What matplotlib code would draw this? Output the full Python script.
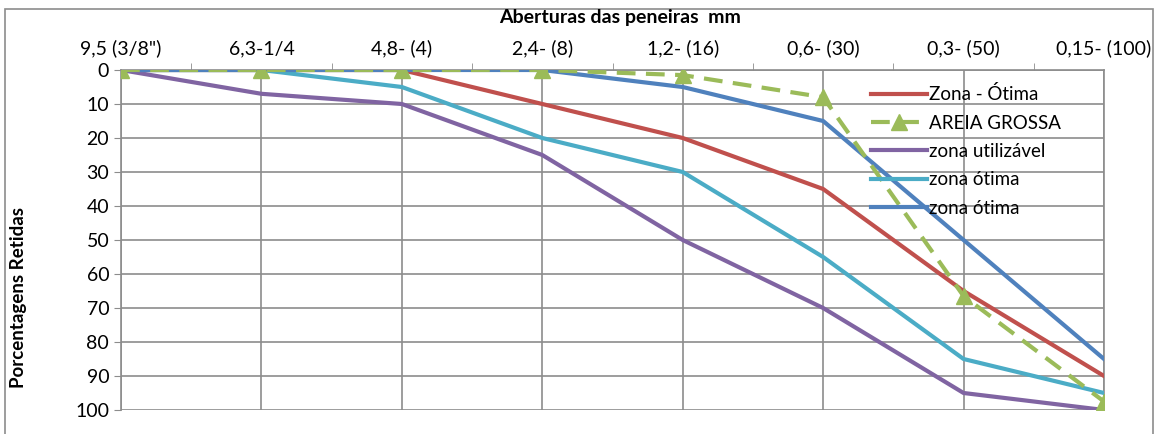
import numpy as np
import matplotlib.pyplot as plt

plt.rcParams['font.family'] = ['Lato', 'DejaVu Sans']

peneiras = ['9,5 (3/8")', '6,3-1/4', '4,8- (4)', '2,4- (8)', '1,2- (16)',
            '0,6- (30)', '0,3- (50)', '0,15- (100)']
zona_otima_lim = [0, 0, 0, 10, 20, 35, 65, 90]
areia_grossa = [0, 0, 0, 0, 1.5, 8, 66.5, 97.5]
zona_utilizavel = [0, 7, 10, 25, 50, 70, 95, 100]
zona_otima_inf = [0, 0, 5, 20, 30, 55, 85, 95]
zona_otima_sup = [0, 0, 0, 0, 5, 15, 50, 85]

grid_color = '#8c8c8c'

fig = plt.figure(figsize=(11.57, 4.34), dpi=100)
ax = fig.add_axes([121 / 1157, 1 - 410 / 434, 983 / 1157, 340 / 434])

x = np.arange(len(peneiras))
lw = 3
ax.plot(x, zona_otima_lim, color='#C0504D', lw=lw, label='Zona - Ótima', zorder=3)
ax.plot(x, areia_grossa, color='#9BBB59', lw=lw, ls=(0, (4.5, 2.5)), marker='^',
        markersize=11, label='AREIA GROSSA', zorder=4)
ax.plot(x, zona_utilizavel, color='#8064A2', lw=lw, label='zona utilizável', zorder=3)
ax.plot(x, zona_otima_inf, color='#4BACC6', lw=lw, label='zona ótima', zorder=3)
ax.plot(x, zona_otima_sup, color='#4F81BD', lw=lw, label='zona ótima', zorder=3)

ax.set_xlim(0, 7)
ax.set_ylim(100, 0)
ax.xaxis.tick_top()
ax.set_xticks(x)
ax.set_xticklabels(peneiras, fontsize=14)
ax.set_xticks(list(np.arange(0.5, 7, 1.0)), minor=True)
ax.tick_params(axis='x', which='major', length=0, pad=9)
ax.tick_params(axis='x', which='minor', length=5, color=grid_color, direction='out')
ax.set_yticks(np.arange(0, 101, 10))
ax.tick_params(axis='y', labelsize=14, length=5, color=grid_color)
ax.grid(True, which='major', color=grid_color, lw=1.2)
for s in ax.spines.values():
    s.set_color(grid_color)
    s.set_linewidth(1.2)
ax.spines['bottom'].set_visible(False)

fig.text(620 / 1157, 1 - 18 / 434, 'Aberturas das peneiras  mm', fontsize=14,
         fontweight='bold', ha='center', va='center')
fig.text(19 / 1157, 1 - 298 / 434, 'Porcentagens Retidas', fontsize=13.5,
         fontweight='bold', rotation=90, ha='center', va='center')

ax.legend(loc='upper left', bbox_to_anchor=(742 / 983, 1 - 8 / 340), frameon=False,
          fontsize=13.5, handlelength=3.0, handletextpad=0.1, labelspacing=0.6,
          borderaxespad=0)

border = plt.Rectangle((5 / 1157, -0.05), 1148 / 1157, 1 - 9 / 434 + 0.05,
                       transform=fig.transFigure, fill=False, edgecolor='#8c8c8c',
                       lw=1.2)
fig.add_artist(border)

fig.savefig('out.png', dpi=100)
